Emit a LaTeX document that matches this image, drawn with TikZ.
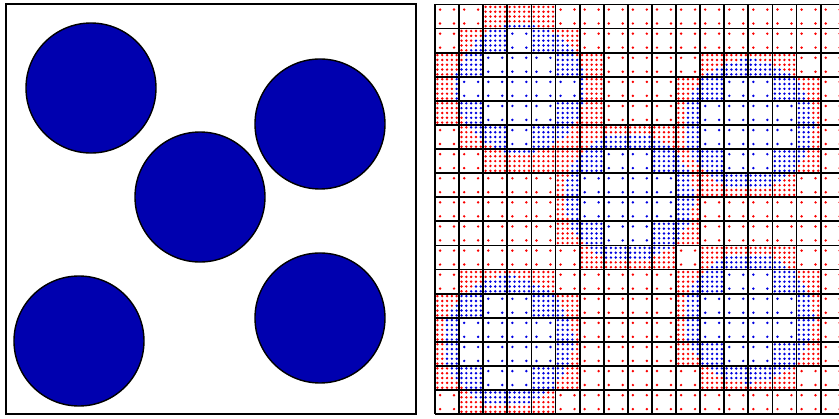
\documentclass[tikz,border=0pt]{standalone}
\definecolor{circfill}{RGB}{0,0,175}
\definecolor{dotred}{RGB}{250,0,0}
\definecolor{dotblue}{RGB}{0,0,225}
\begin{document}
\begin{tikzpicture}[x=1pt,y=-1pt,
  declare function={
    dmn(\p,\q,\a,\b)=veclen(max(\p-\a,0,\a-\p-1),max(\q-\b,0,\b-\q-1));
    dmx(\p,\q,\a,\b)=veclen(max(abs(\a-\p),abs(\a-\p-1)),max(abs(\b-\q),abs(\b-\q-1)));
    cut(\p,\q,\a,\b)=(dmn(\p,\q,\a,\b)<2.695)*(dmx(\p,\q,\a,\b)>2.695);
    ins(\p,\q,\a,\b)=(veclen(\p-\a,\q-\b)<2.695);
    allcut(\p,\q)=cut(\p,\q,3.524,3.483)+cut(\p,\q,8.043,8.002)+cut(\p,\q,13.018,4.975)+cut(\p,\q,3.026,13.972)+cut(\p,\q,13.018,13.018);
    allin(\p,\q)=ins(\p,\q,3.524,3.483)+ins(\p,\q,8.043,8.002)+ins(\p,\q,13.018,4.975)+ins(\p,\q,3.026,13.972)+ins(\p,\q,13.018,13.018);
  },
  frameline/.style={line width=1.8pt,draw=black},
  disc/.style={fill=circfill,draw=black,line width=1.4pt},
  qdot/.style={radius=1.35pt}]
\useasboundingbox (0,0) rectangle (839,419);
\clip (0,0) rectangle (839,419);
% left panel
\begin{scope}[shift={(6,4)},x=24.12pt,y=-24.12pt]
  \filldraw[disc] (3.524,3.483) circle[radius=2.695];
  \filldraw[disc] (8.043,8.002) circle[radius=2.695];
  \filldraw[disc] (13.018,4.975) circle[radius=2.695];
  \filldraw[disc] (3.026,13.972) circle[radius=2.695];
  \filldraw[disc] (13.018,13.018) circle[radius=2.695];
  \draw[frameline] (0,0) rectangle (17,17);
\end{scope}
% right panel
\begin{scope}[shift={(435,4.5)},x=24.1pt,y=-24.1pt]
\foreach \i in {0,...,16}{
  \foreach \j in {0,...,16}{
    \pgfmathsetmacro\cc{allcut(\i,\j)}
    \ifdim\cc pt>0.5pt
      \foreach \u in {0.1,0.3,0.5,0.7,0.9}{
        \foreach \v in {0.1,0.3,0.5,0.7,0.9}{
          \pgfmathsetmacro\ii{allin(\i+\u,\j+\v)}
          \ifdim\ii pt>0.5pt
            \fill[dotblue] (\i+\u,\j+\v) circle[qdot];
          \else
            \fill[dotred] (\i+\u,\j+\v) circle[qdot];
          \fi
        }
      }
    \else
      \pgfmathsetmacro\ii{allin(\i+0.5,\j+0.5)}
      \ifdim\ii pt>0.5pt \def\dc{dotblue}\else\def\dc{dotred}\fi
      \foreach \u in {0.2113,0.7887}{
        \foreach \v in {0.2113,0.7887}{
          \fill[\dc] (\i+\u,\j+\v) circle[qdot];
        }
      }
    \fi
  }
}
\foreach \k in {0,...,17}{
  \draw[frameline] (\k,0) -- (\k,17);
  \draw[frameline] (0,\k) -- (17,\k);
}
\end{scope}
\end{tikzpicture}
\end{document}
